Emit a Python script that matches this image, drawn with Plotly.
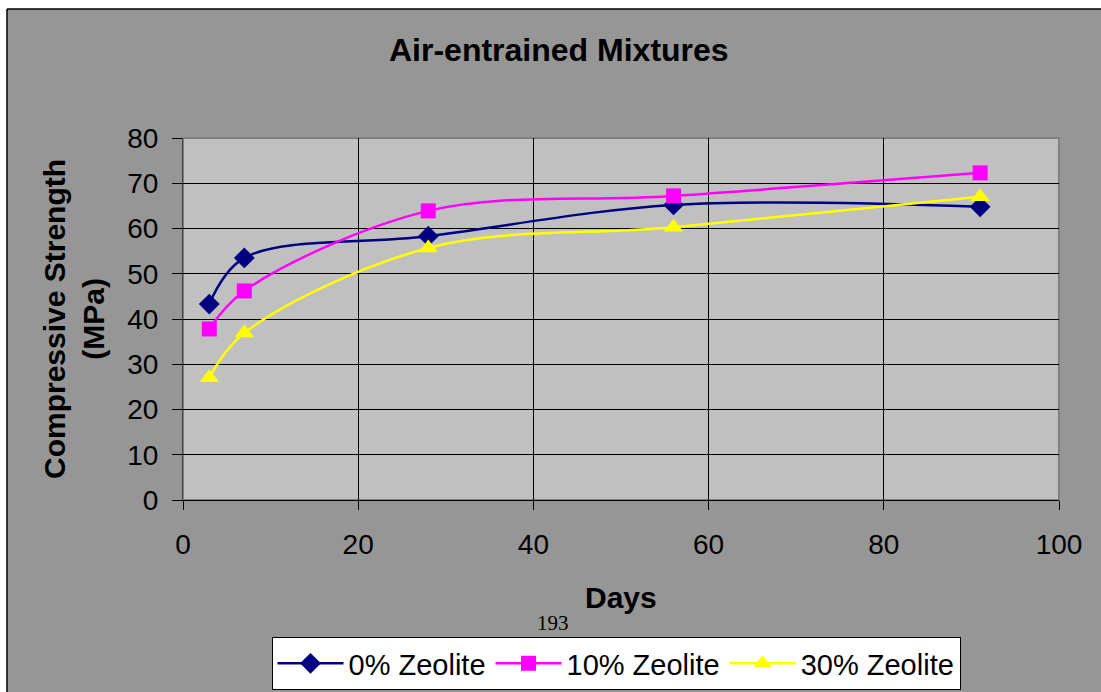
import plotly.graph_objects as go

days = [3, 7, 28, 56, 91]
zeolite_0 = [43.3, 53.5, 58.3, 65.2, 64.8]
zeolite_10 = [37.8, 46.2, 63.9, 67.2, 72.3]
zeolite_30 = [27.0, 36.9, 55.7, 60.3, 67.0]
series_names = ["0% Zeolite", "10% Zeolite", "30% Zeolite"]
x_ticks = [0, 20, 40, 60, 80, 100]
y_ticks = [0, 10, 20, 30, 40, 50, 60, 70, 80]

W, H = 1101, 692
L, R, T, B = 183, 42, 138, 192
PW, PH = W - L - R, H - T - B

def px(x):
    return (x - L) / PW

def py(y):
    return (H - B - y) / PH

fig = go.Figure()
styles = [
    ("#000080", "diamond", 16),
    ("#FF00FF", "square", 15),
    ("#FFFF00", "triangle-up", 17),
]
for name, vals, (col, sym, sz) in zip(series_names, [zeolite_0, zeolite_10, zeolite_30], styles):
    fig.add_trace(go.Scatter(
        x=days, y=vals, name=name, mode="lines+markers",
        line=dict(color=col, width=2.5, shape="spline", smoothing=1),
        marker=dict(symbol=sym, size=sz, color=col, line=dict(width=0)),
    ))

font = "Arial, Liberation Sans, sans-serif"
fig.update_layout(
    width=W, height=H,
    margin=dict(l=L, r=R, t=T, b=B, pad=0, autoexpand=False),
    paper_bgcolor="#969696",
    plot_bgcolor="#C0C0C0",
    font=dict(family=font, color="black"),
    showlegend=True,
    legend=dict(
        orientation="h", x=px(616), xanchor="center", y=py(690), yanchor="bottom",
        bgcolor="white", bordercolor="black", borderwidth=1,
        font=dict(size=29, family=font, color="black"),
        itemwidth=66, tracegroupgap=0,
    ),
    xaxis=dict(
        range=[0, 100], tickvals=x_ticks, showgrid=True, gridcolor="black", gridwidth=1,
        showline=True, linecolor="black", linewidth=1,
        ticks="outside", ticklen=9, tickcolor="black",
        tickfont=dict(size=28, family=font, color="black"),
        zeroline=False, ticklabelstandoff=10,
    ),
    yaxis=dict(
        range=[0, 80], tickvals=y_ticks, showgrid=True, gridcolor="black", gridwidth=1,
        showline=True, linecolor="#404040", linewidth=1,
        ticks="outside", ticklen=10, tickcolor="black",
        tickfont=dict(size=28, family=font, color="black"),
        zeroline=False, ticklabelstandoff=8,
    ),
    shapes=[
        dict(type="rect", xref="paper", yref="paper", x0=0, x1=1, y0=0, y1=1,
             line=dict(color="#808080", width=2), layer="below"),
        dict(type="rect", xref="paper", yref="paper", x0=px(0), x1=px(W), y0=py(9), y1=py(0),
             fillcolor="white", line=dict(width=0), layer="above"),
        dict(type="rect", xref="paper", yref="paper", x0=px(0), x1=px(7), y0=py(H), y1=py(0),
             fillcolor="white", line=dict(width=0), layer="above"),
        dict(type="line", xref="paper", yref="paper", x0=px(7), x1=px(W), y0=py(9), y1=py(9),
             line=dict(color="black", width=1.5), layer="above"),
        dict(type="line", xref="paper", yref="paper", x0=px(7), x1=px(7), y0=py(9), y1=py(H),
             line=dict(color="black", width=1.5), layer="above"),
    ],
    annotations=[
        dict(text="<b>Air-entrained Mixtures</b>", xref="paper", yref="paper",
             x=px(559), y=py(50), xanchor="center", yanchor="middle", showarrow=False,
             font=dict(size=32, family=font, color="black")),
        dict(text="<b>Compressive Strength<br>(MPa)</b>", xref="paper", yref="paper",
             x=px(74), y=py(319), xanchor="center", yanchor="middle", showarrow=False,
             textangle=-90, font=dict(size=30, family=font, color="black")),
        dict(text="<b>Days</b>", xref="paper", yref="paper",
             x=px(621), y=py(597), xanchor="center", yanchor="middle", showarrow=False,
             font=dict(size=30, family=font, color="black")),
        dict(text="193", xref="paper", yref="paper",
             x=px(553), y=py(623), xanchor="center", yanchor="middle", showarrow=False,
             font=dict(size=21, family="Times New Roman, Liberation Serif, serif", color="black")),
    ],
)

fig.write_html("out.html")
